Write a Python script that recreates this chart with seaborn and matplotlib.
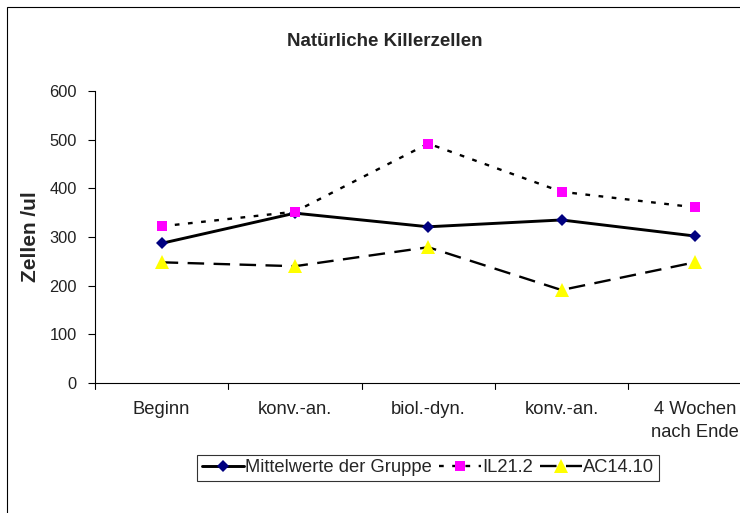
import matplotlib
matplotlib.use("Agg")
import matplotlib.pyplot as plt
import matplotlib.transforms as mtrans
import seaborn as sns
import pandas as pd
from matplotlib.patches import Rectangle

categories = ["Beginn", "konv.-an.", "biol.-dyn.", "konv.-an.", "4 Wochen\nnach Ende"]
mittelwerte = [287, 349, 321, 335, 302]
il21 = [322, 352, 492, 393, 361]
ac14 = [248, 240, 279, 191, 248]
series_names = ["Mittelwerte der Gruppe", "IL21.2", "AC14.10"]
yticks = [0, 100, 200, 300, 400, 500, 600]

sns.set_theme(style="white")
plt.rcParams['font.family'] = ['Liberation Sans', 'DejaVu Sans']

fig = plt.figure(figsize=(7.4, 5.13), dpi=100)
ax = fig.add_axes([95/740, 1-383/513, 666.5/740, 292/513])

pos = list(range(len(categories)))
df = pd.DataFrame({"x": pos * 3,
                   "y": mittelwerte + il21 + ac14,
                   "s": sum([[n] * len(pos) for n in series_names], [])})

styles = {
    "Mittelwerte der Gruppe": dict(lw=2.1, marker="D", ms=6.5,
                                   mfc="#000080", dashes=None),
    "IL21.2": dict(lw=1.7, marker="s", ms=7.5,
                   mfc="#FF00FF", dashes=(2.0, 3.6)),
    "AC14.10": dict(lw=1.7, marker="^", ms=9.5,
                    mfc="#FFFF00", dashes=(7, 4)),
}
for name in series_names:
    st = styles[name]
    d = df[df.s == name]
    sns.lineplot(data=d, x="x", y="y", ax=ax, label=name,
                 color="black", lw=st["lw"], marker=st["marker"],
                 markersize=st["ms"], markerfacecolor=st["mfc"],
                 markeredgecolor=st["mfc"], markeredgewidth=0)
    if st["dashes"]:
        ax.lines[-1].set_dashes(st["dashes"])

ax.set_xlim(-0.5, 4.5)
ax.set_ylim(0, 600)
ax.set_yticks(yticks)
ax.set_yticklabels([str(v) for v in yticks], fontsize=11.8, color="#222222")
ax.set_xticks(pos)
ax.set_xticklabels(categories, fontsize=13.2, color="#222222", linespacing=1.45)
ax.tick_params(axis="x", length=0, pad=13)
trans = mtrans.blended_transform_factory(ax.transData, ax.transAxes)
for b in [p - 0.5 for p in pos]:
    ax.plot([b, b], [0, -6/292], color="black", lw=0.8, transform=trans, clip_on=False)
ax.tick_params(axis="y", length=5, width=0.8, color="black", direction="out", left=True, pad=8)
ax.set_xlabel("")
ax.set_ylabel("")
for s in ["top", "right"]:
    ax.spines[s].set_visible(False)
for s in ["left", "bottom"]:
    ax.spines[s].set_color("black")
    ax.spines[s].set_linewidth(0.8)

fig.text(385/740, 1-42/513, "Natürliche Killerzellen", ha="center", va="center",
         fontsize=13.5, fontweight="bold")
fig.text(30/740, 1-237/513, "Zellen /ul", ha="center", va="center",
         rotation=90, fontsize=15, fontweight="bold")

leg = ax.legend(loc="center", bbox_to_anchor=(428/740, 1-468/513),
                bbox_transform=fig.transFigure, ncol=3, fontsize=13.2,
                frameon=True, fancybox=False, handlelength=2.3,
                handletextpad=0.05, columnspacing=0.4, borderpad=0.25,
                borderaxespad=0)
leg.get_frame().set_edgecolor("black")
leg.get_frame().set_linewidth(0.8)

fig.patches.append(Rectangle((7/740, -0.1), 1.2, 1-7/513+0.1,
                             transform=fig.transFigure, fill=False,
                             edgecolor="black", lw=0.8, figure=fig))

fig.savefig("out.png", dpi=100)
